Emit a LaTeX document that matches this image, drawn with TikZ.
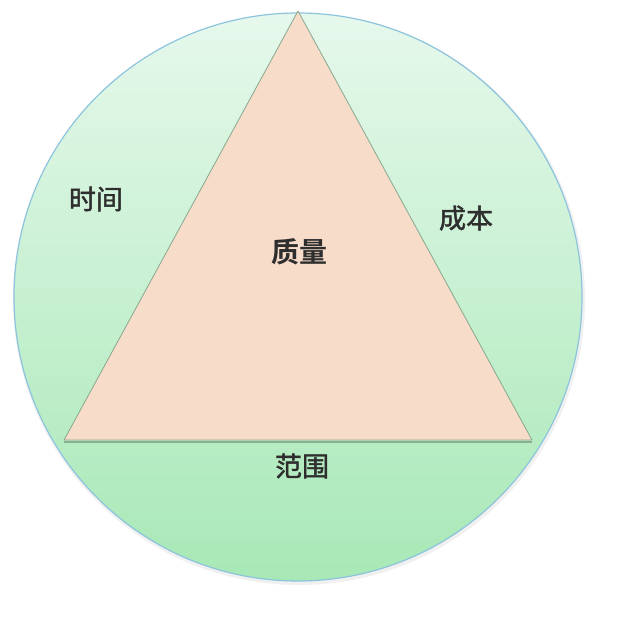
\documentclass[tikz,border=0pt]{standalone}
\usepackage{fontspec}
\newfontfamily\cjk[FakeBold=1.6]{Noto Sans CJK SC}
\newfontfamily\cjkbold[BoldFont={Noto Sans CJK SC Bold}]{Noto Sans CJK SC}
\definecolor{circtop}{HTML}{E6F8EC}
\definecolor{circbot}{HTML}{A8E8B6}
\definecolor{circedge}{HTML}{8CC4DE}
\definecolor{trifill}{HTML}{F8DCCA}
\definecolor{triedge}{HTML}{86A88E}
\definecolor{txt}{HTML}{2E2E2E}
\tikzset{
  lbl/.style={text=txt, font=\cjk\fontsize{27}{27}\selectfont, inner sep=0pt},
  lblbold/.style={lbl, font=\cjkbold\bfseries\fontsize{28}{28}\selectfont},
}
\begin{document}
\begin{tikzpicture}[x=1pt,y=-1pt]
\useasboundingbox (0,0) rectangle (623,616);
\fill[white] (0,0) rectangle (623,616);
% soft shadow of the circle
\fill[black, opacity=0.06] (299,299) circle [radius=286];
% circle
\shade[top color=circtop, bottom color=circbot, draw=circedge, line width=1.2pt]
  (298,297) circle [radius=284];
% triangle
\coordinate (A) at (298,11);
\coordinate (B) at (64,440);
\coordinate (C) at (532,440);
\draw[triedge!60!black, line width=2.5pt, opacity=0.45] ([yshift=-2]B) -- ([yshift=-2]C);
\filldraw[fill=trifill, draw=triedge, line width=0.8pt, line join=round] (A) -- (B) -- (C) -- cycle;
% labels
\node[lbl] (time) at (96,199) {时间};
\node[lbl] (cost) at (466,218) {成本};
\node[lblbold] (quality) at (299,252) {质量};
\node[lbl] (scope) at (302,466) {范围};
\end{tikzpicture}
\end{document}
